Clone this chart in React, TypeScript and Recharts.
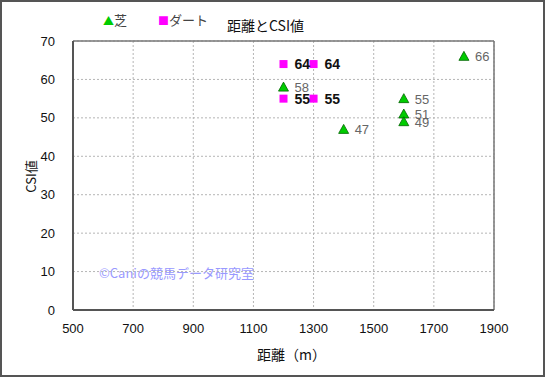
import React from 'react';
import {
  ScatterChart,
  Scatter,
  XAxis,
  YAxis,
  CartesianGrid,
  ReferenceLine,
  LabelList
} from 'recharts';

// 芝 (turf) and ダート (dirt) points: distance, CSI
const turfDistance = [1200, 1400, 1600, 1600, 1600, 1800];
const turfCsi = [58, 47, 55, 51, 49, 66];
const dirtDistance = [1200, 1300, 1200, 1300];
const dirtCsi = [64, 64, 55, 55];

const xTicks = [500, 700, 900, 1100, 1300, 1500, 1700, 1900];
const yTicks = [0, 10, 20, 30, 40, 50, 60, 70];

const turfData = turfDistance.map((d, i) => ({ x: d, y: turfCsi[i] }));
const dirtData = dirtDistance.map((d, i) => ({ x: d, y: dirtCsi[i] }));

const FONT = '"Noto Sans CJK JP", "Liberation Sans", sans-serif';
const NUM_FONT = '"Liberation Sans", Arial, sans-serif';

const Triangle = (props: any) => {
  const { cx, cy } = props;
  if (cx == null || cy == null) return null;
  return (
    <path
      d={`M${cx},${cy - 5} L${cx + 5},${cy + 4} L${cx - 5},${cy + 4} Z`}
      fill="#00cc00"
      stroke="#006600"
      strokeWidth={0.8}
    />
  );
};

const Square = (props: any) => {
  const { cx, cy } = props;
  if (cx == null || cy == null) return null;
  return <rect x={cx - 4} y={cy - 4} width={8} height={8} fill="#ff00ff" />;
};

const turfLabel = (props: any) => {
  const { x, y, width, height, value } = props;
  const cx = x + width / 2;
  const cy = y + height / 2;
  return (
    <text x={cx + 11} y={cy + 5} fontSize={13} fill="#666" fontFamily={NUM_FONT}>
      {value}
    </text>
  );
};

const dirtLabel = (props: any) => {
  const { x, y, width, height, value } = props;
  const cx = x + width / 2;
  const cy = y + height / 2;
  return (
    <text x={cx + 11} y={cy + 5} fontSize={14} fill="#111" fontFamily={NUM_FONT} fontWeight={600}>
      {value}
    </text>
  );
};

const App: React.FC = () => {
  return (
    <div
      style={{
        position: 'absolute',
        left: 0,
        top: 0,
        width: 545,
        height: 377,
        boxSizing: 'border-box',
        border: '2px solid #555',
        background: '#fff',
        fontFamily: FONT
      }}
    >
      <div style={{ position: 'absolute', left: 101, top: 8, fontSize: 13, color: '#444' }}>
        <span style={{ color: '#00cc00', fontSize: 11 }}>▲</span>芝
      </div>
      <div style={{ position: 'absolute', left: 156, top: 8, fontSize: 13, color: '#444' }}>
        <span style={{ color: '#ff00ff', fontSize: 11 }}>■</span>ダート
      </div>
      <div style={{ position: 'absolute', left: 225, top: 13, fontSize: 14, color: '#111' }}>
        距離とCSI値
      </div>
      <div
        style={{
          position: 'absolute',
          left: 12,
          top: 165,
          fontSize: 13,
          color: '#111',
          transform: 'rotate(-90deg)'
        }}
      >
        CSI値
      </div>
      <div style={{ position: 'absolute', left: 255, top: 342, fontSize: 14, color: '#111' }}>
        距離（m）
      </div>
      <div style={{ position: 'absolute', left: 97, top: 261, fontSize: 13, color: '#9999ff' }}>
        ©Caniの競馬データ研究室
      </div>
      <div style={{ position: 'absolute', left: -2, top: -2 }}>
        <ScatterChart
          width={545}
          height={377}
          margin={{ top: 41, right: 51, bottom: 37, left: 30 }}
        >
          <CartesianGrid stroke="#b5b5b5" strokeDasharray="2 2" />
          <XAxis
            type="number"
            dataKey="x"
            domain={[500, 1900]}
            ticks={xTicks}
            interval={0}
            height={30}
            axisLine={{ stroke: '#555', strokeWidth: 2 }}
            tickLine={false}
            tickMargin={8}
            tick={{ fontSize: 13, fill: '#111', fontFamily: NUM_FONT }}
          />
          <YAxis
            type="number"
            dataKey="y"
            domain={[0, 70]}
            ticks={yTicks}
            interval={0}
            width={43}
            axisLine={{ stroke: '#555', strokeWidth: 2 }}
            tickLine={false}
            tickMargin={12}
            tick={{ fontSize: 13, fill: '#111', fontFamily: NUM_FONT }}
          />
          <ReferenceLine y={70} stroke="#777" strokeWidth={1.5} />
          <ReferenceLine x={1900} stroke="#777" strokeWidth={1.5} />
          <Scatter data={turfData} shape={<Triangle />} isAnimationActive={false}>
            <LabelList dataKey="y" content={turfLabel} />
          </Scatter>
          <Scatter data={dirtData} shape={<Square />} isAnimationActive={false}>
            <LabelList dataKey="y" content={dirtLabel} />
          </Scatter>
        </ScatterChart>
      </div>
    </div>
  );
};

export default App;
